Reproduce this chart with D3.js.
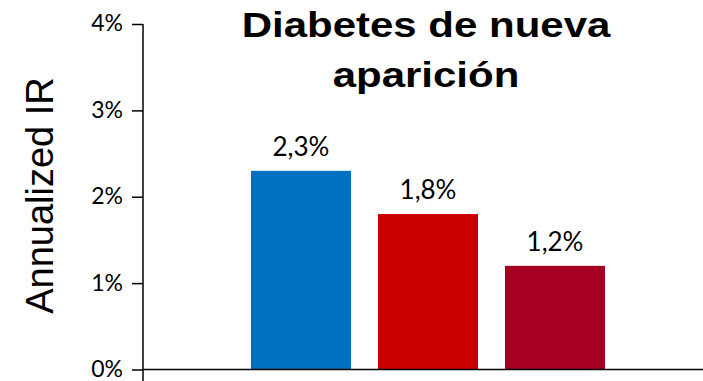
<!DOCTYPE html>
<html>
<head>
<meta charset="utf-8">
<script src="https://cdn.jsdelivr.net/npm/d3@7/dist/d3.min.js"></script>
<style>
  html, body { margin: 0; padding: 0; background: #fff; }
  svg { display: block; }
</style>
</head>
<body>
<svg id="chart" width="703" height="381"></svg>
<script>
// Annualized incidence rate of new-onset diabetes, by group
const categories = ["Grupo 1", "Grupo 2", "Grupo 3"];
const values = [2.3, 1.8, 1.2];
const barColors = ["#0070C0", "#CC0000", "#A50021"];
const yTicks = [0, 1, 2, 3, 4];
const titleLines = ["Diabetes de nueva", "aparición"];
const yTitle = "Annualized IR";

const svg = d3.select("#chart");
const W = 703, H = 381;

const axisX = 143;
const x = d3.scaleBand()
  .domain(categories)
  .range([251, 605])
  .paddingInner(0.2126)
  .paddingOuter(0);

const y = d3.scaleLinear()
  .domain([0, 4])
  .range([369.5, 24]);

const fmt = v => d3.format(".1f")(v).replace(".", ",") + "%";
const labelFont = "Lato, 'Open Sans', sans-serif";

// Bars
svg.append("g")
  .selectAll("rect")
  .data(values)
  .join("rect")
  .attr("x", (d, i) => x(categories[i]))
  .attr("y", d => y(d))
  .attr("width", x.bandwidth())
  .attr("height", d => y(0) - y(d))
  .attr("fill", (d, i) => barColors[i]);

// Value labels above bars
svg.append("g")
  .selectAll("text")
  .data(values)
  .join("text")
  .attr("x", (d, i) => x(categories[i]) + x.bandwidth() / 2)
  .attr("y", d => y(d) - 15)
  .attr("text-anchor", "middle")
  .attr("font-family", labelFont)
  .attr("font-size", 26)
  .attr("fill", "#000")
  .text(d => fmt(d));

// Y axis
const yAxis = d3.axisLeft(y)
  .tickValues(yTicks)
  .tickSize(11)
  .tickPadding(9)
  .tickFormat(d => d + "%");

const gy = svg.append("g")
  .attr("transform", `translate(${axisX},0)`)
  .call(yAxis);
gy.select(".domain").remove();
gy.selectAll(".tick line").attr("stroke", "#000").attr("stroke-width", 1.5);
gy.selectAll(".tick text")
  .attr("font-family", labelFont)
  .attr("font-size", 23)
  .attr("dy", "0.3em")
  .attr("fill", "#000");

// Axis lines
svg.append("line")
  .attr("x1", axisX).attr("x2", axisX)
  .attr("y1", y(4)).attr("y2", H)
  .attr("stroke", "#000").attr("stroke-width", 1.5);
svg.append("line")
  .attr("x1", axisX).attr("x2", W)
  .attr("y1", y(0)).attr("y2", y(0))
  .attr("stroke", "#000").attr("stroke-width", 1.5);

// Y axis title
svg.append("text")
  .attr("transform", "translate(53,195.5) rotate(-90)")
  .attr("text-anchor", "middle")
  .attr("font-family", "'Liberation Sans', Arial, sans-serif")
  .attr("font-size", 38)
  .attr("fill", "#000")
  .text(yTitle);

// Chart title (two lines, widened)
const title = svg.append("g")
  .attr("transform", "translate(426,0) scale(1.2,1)");
title.selectAll("text")
  .data(titleLines)
  .join("text")
  .attr("x", 0)
  .attr("y", (d, i) => 37 + i * 50)
  .attr("text-anchor", "middle")
  .attr("font-family", "'Liberation Sans', Arial, sans-serif")
  .attr("font-weight", "bold")
  .attr("font-size", 35)
  .attr("fill", "#000")
  .text(d => d);
</script>
</body>
</html>
